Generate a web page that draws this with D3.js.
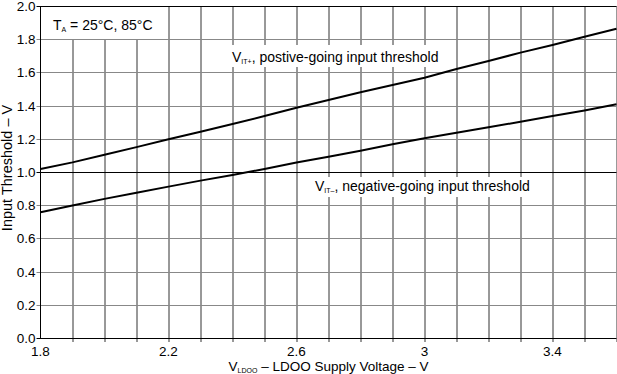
<!DOCTYPE html>
<html>
<head>
<meta charset="utf-8">
<script src="https://cdn.jsdelivr.net/npm/d3@7"></script>
<style>
  body { margin: 0; background: #fff; }
  svg { display: block; font-family: "Liberation Sans", Arial, sans-serif; }
</style>
</head>
<body>
<div class="chart"></div>
<script>
  // supply voltage (V)
  var vSupply = [1.8, 1.9, 2.0, 2.1, 2.2, 2.3, 2.4, 2.5, 2.6, 2.7, 2.8, 2.9, 3.0, 3.1, 3.2, 3.3, 3.4, 3.5, 3.6];
  // V_IT+ positive-going threshold (V)
  var vitPos = [1.018, 1.058, 1.104, 1.15, 1.197, 1.243, 1.289, 1.337, 1.387, 1.434, 1.48, 1.524, 1.568, 1.62, 1.669, 1.719, 1.765, 1.815, 1.863];
  // V_IT- negative-going threshold (V)
  var vitNeg = [0.757, 0.798, 0.838, 0.875, 0.912, 0.948, 0.982, 1.018, 1.057, 1.092, 1.128, 1.167, 1.203, 1.236, 1.269, 1.303, 1.337, 1.371, 1.408];

  var xTicks = [1.8, 2.2, 2.6, 3.0, 3.4];
  var xTickLabels = ["1.8", "2.2", "2.6", "3", "3.4"];
  var yTicks = [0, 0.2, 0.4, 0.6, 0.8, 1.0, 1.2, 1.4, 1.6, 1.8, 2.0];

  var margin = { top: 6, right: 0.5, bottom: 36, left: 40.5 };
  var W = 617, H = 374;
  var width = W - margin.left - margin.right,
      height = H - margin.top - margin.bottom;

  var x = d3.scaleLinear().domain([1.8, 3.6]).range([0, width]);
  var y = d3.scaleLinear().domain([0, 2.0]).range([height, 0]);

  var svg = d3.select(".chart").append("svg")
    .attr("width", W)
    .attr("height", H);

  var chart = svg.append("g")
    .attr("transform", "translate(" + margin.left + "," + margin.top + ")");

  // vertical grid every 0.1 V
  var xGrid = d3.range(19).map(function(i) { return +(1.8 + i * 0.1).toFixed(1); });
  chart.selectAll(".vgrid")
    .data(xGrid.slice(1))
    .enter().append("line")
    .attr("class", "vgrid")
    .attr("x1", function(d) { return Math.round(x(d)) + 0.5; })
    .attr("x2", function(d) { return Math.round(x(d)) + 0.5; })
    .attr("y1", 0)
    .attr("y2", height + 4)
    .attr("stroke", "#333")
    .attr("stroke-width", 1);

  // horizontal grid
  chart.selectAll(".hgrid")
    .data(yTicks.slice(1))
    .enter().append("line")
    .attr("class", "hgrid")
    .attr("x1", -4)
    .attr("x2", width)
    .attr("y1", function(d) { return Math.round(y(d)) + 0.5; })
    .attr("y2", function(d) { return Math.round(y(d)) + 0.5; })
    .attr("stroke", function(d) { return (d == 1.0 || d == 2.0) ? "#000" : "#888"; })
    .attr("stroke-width", 1);

  // axes lines
  chart.append("line")
    .attr("x1", 0).attr("x2", 0)
    .attr("y1", 0).attr("y2", height)
    .attr("stroke", "#000");
  chart.append("line")
    .attr("x1", -4).attr("x2", width)
    .attr("y1", height + 0.5).attr("y2", height + 0.5)
    .attr("stroke", "#000");

  // y tick labels
  chart.selectAll(".ylab")
    .data(yTicks)
    .enter().append("text")
    .attr("class", "ylab")
    .attr("x", -5)
    .attr("y", function(d) { return y(d) + 5; })
    .attr("text-anchor", "end")
    .attr("font-size", 13.5)
    .text(function(d) { return d.toFixed(1); });

  // x tick labels
  chart.selectAll(".xlab")
    .data(xTicks)
    .enter().append("text")
    .attr("class", "xlab")
    .attr("x", function(d) { return x(d); })
    .attr("y", height + 18)
    .attr("text-anchor", "middle")
    .attr("font-size", 13.5)
    .text(function(d, i) { return xTickLabels[i]; });

  // axis titles
  var xt = svg.append("text")
    .attr("x", margin.left + width / 2)
    .attr("y", H - 3)
    .attr("text-anchor", "middle")
    .attr("font-size", 13.5);
  xt.append("tspan").text("V");
  xt.append("tspan").attr("font-size", 7).attr("dy", 2).text("LDOO");
  xt.append("tspan").attr("dy", -2).text(" – LDOO Supply Voltage – V");

  svg.append("text")
    .attr("transform", "translate(12,168) rotate(-90)")
    .attr("text-anchor", "middle")
    .attr("font-size", 14.5)
    .text("Input Threshold – V");

  // curves
  var line = d3.line()
    .x(function(d) { return x(d[0]); })
    .y(function(d) { return y(d[1]); });

  [vitPos, vitNeg].forEach(function(series) {
    chart.append("path")
      .datum(vSupply.map(function(v, i) { return [v, series[i]]; }))
      .attr("fill", "none")
      .attr("stroke", "#000")
      .attr("stroke-width", 2)
      .attr("d", line);
  });

  // labels with white boxes
  function label(bx, by, bw, bh, tx, ty, main, sub, rest) {
    svg.append("rect")
      .attr("x", bx).attr("y", by)
      .attr("width", bw).attr("height", bh)
      .attr("fill", "#fff");
    var t = svg.append("text")
      .attr("x", tx).attr("y", ty)
      .attr("font-size", 14);
    t.append("tspan").text(main);
    t.append("tspan").attr("font-size", 7).attr("dy", 2).text(sub);
    t.append("tspan").attr("dy", -2).text(rest);
  }

  label(41, 7, 126, 32, 53, 30, "T", "A", " = 25°C, 85°C");
  label(225, 45, 218, 22, 232, 62, "V", "IT+", ", postive-going input threshold");
  label(298, 177, 236, 20, 315, 191, "V", "IT–", ", negative-going input threshold");
</script>
</body>
</html>
